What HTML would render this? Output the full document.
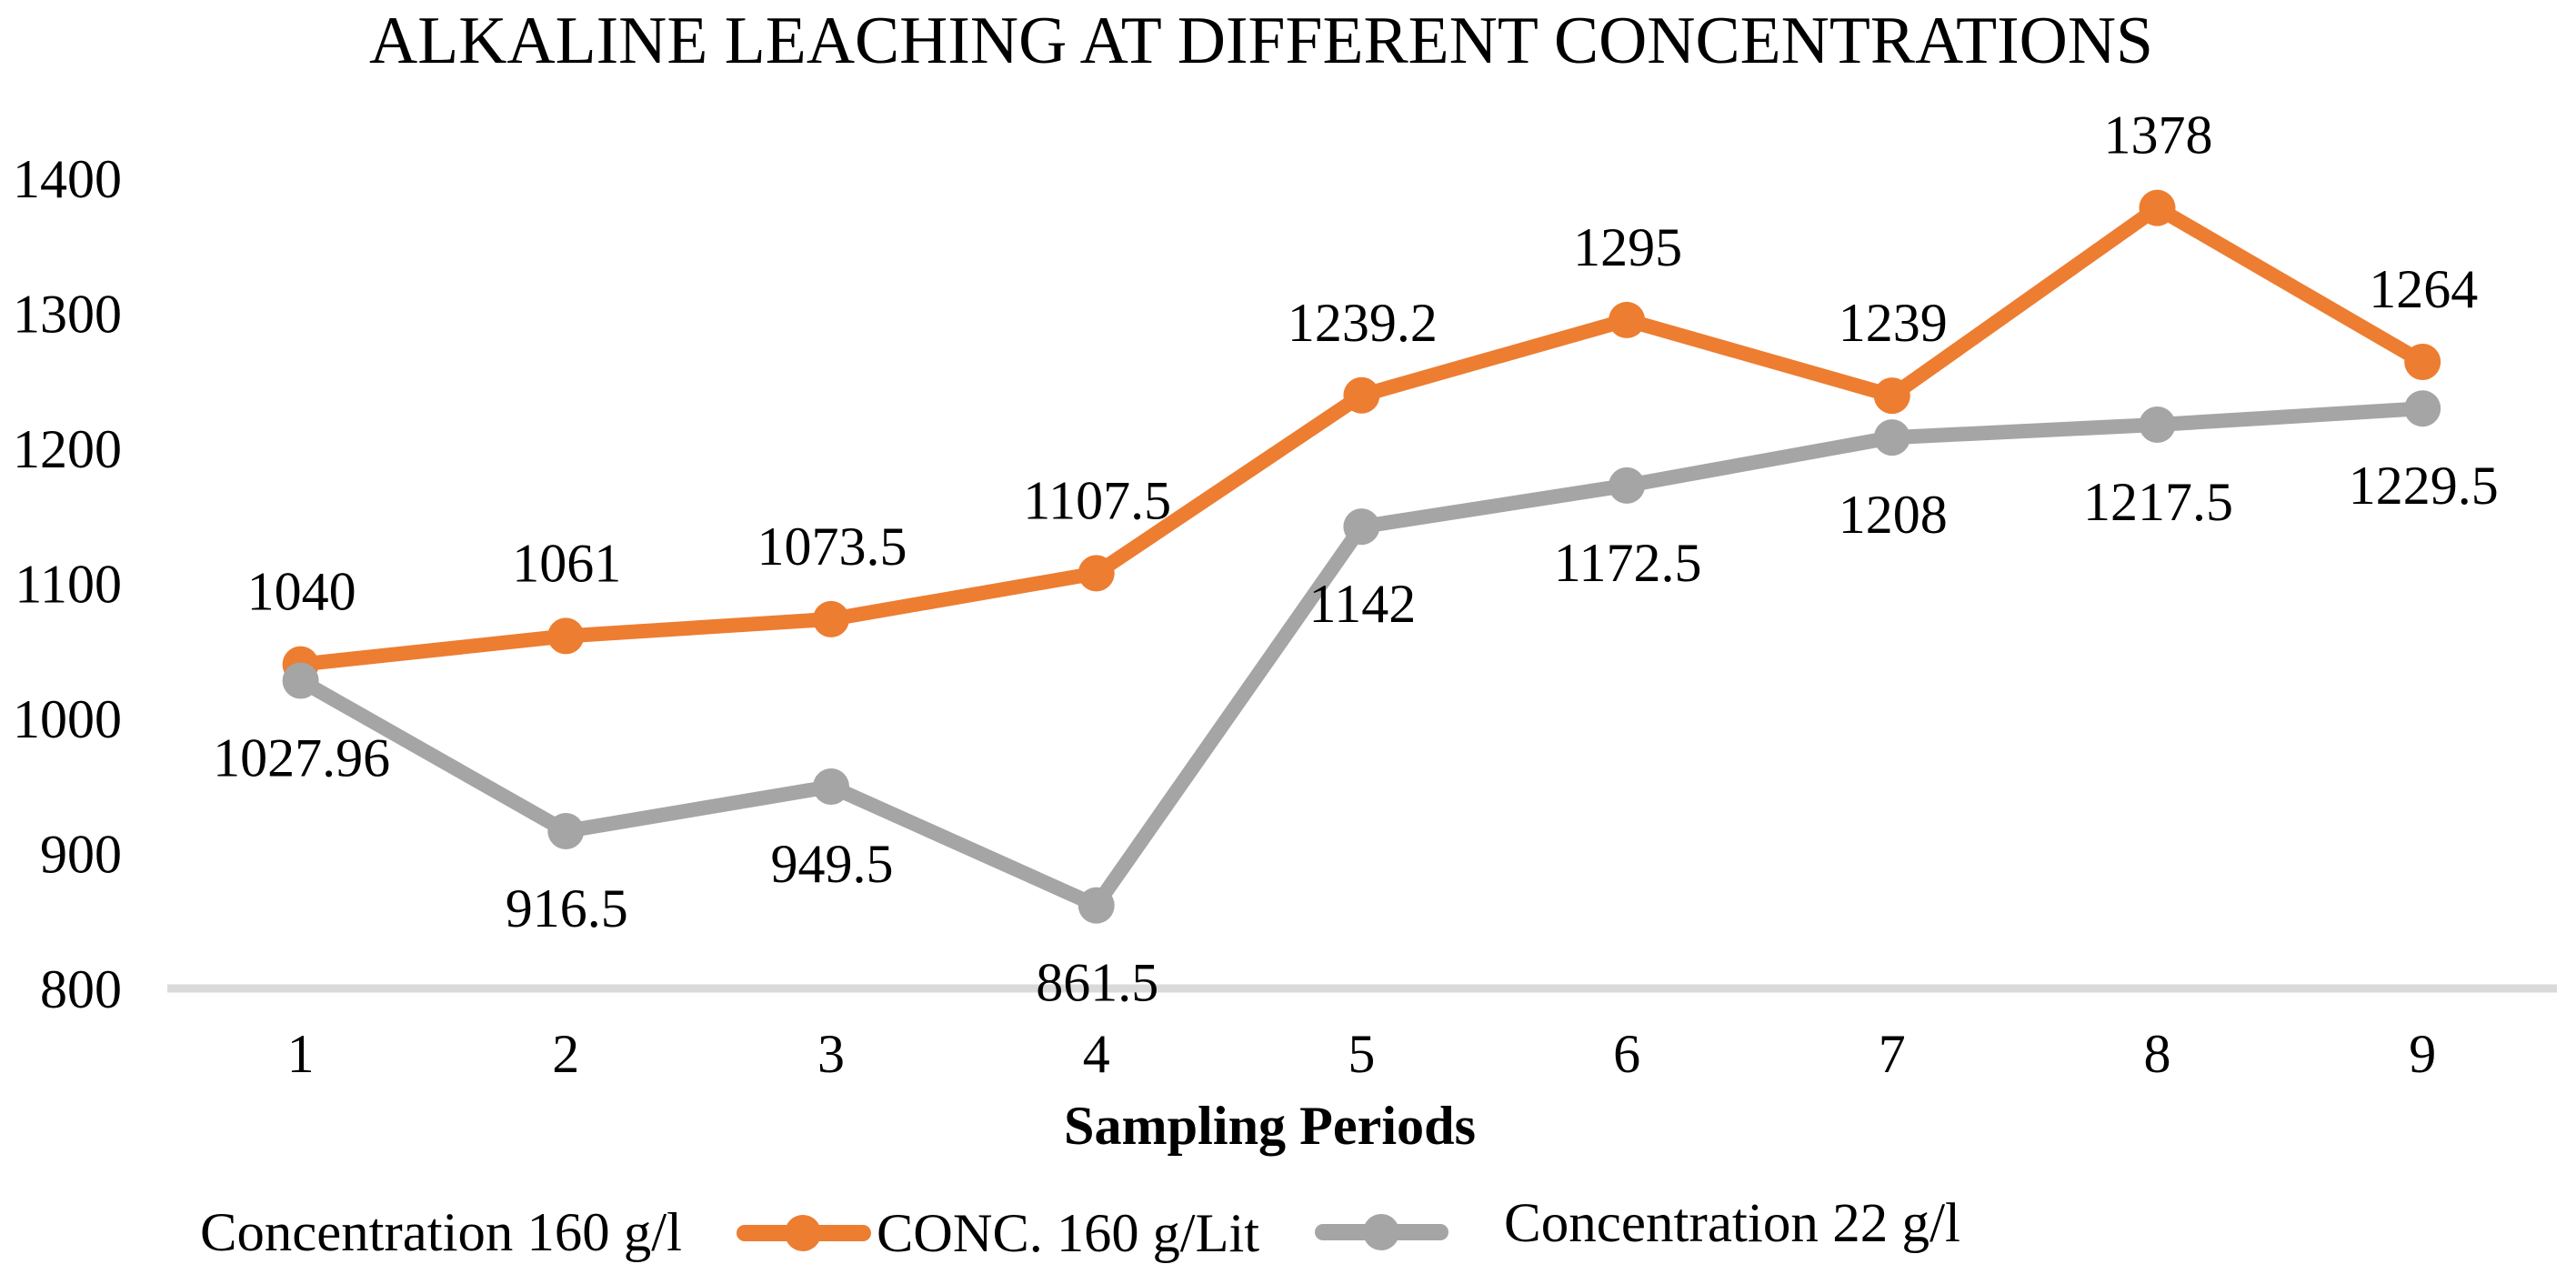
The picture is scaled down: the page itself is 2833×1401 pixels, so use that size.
<!DOCTYPE html>
<html>
<head>
<meta charset="utf-8">
<title>Alkaline Leaching at Different Concentrations</title>
<style>
html,body{margin:0;padding:0;background:#fff;}
svg{display:block;}
text{font-family:"Liberation Serif",serif;fill:#000;}
</style>
</head>
<body>
<svg id="chart" xmlns="http://www.w3.org/2000/svg" width="2833" height="1401" viewBox="0 0 2833 1401">
  <rect x="0" y="0" width="2833" height="1401" fill="#fff"/>
  <text x="406" y="69" font-size="74" textLength="1962" lengthAdjust="spacingAndGlyphs">ALKALINE LEACHING AT DIFFERENT CONCENTRATIONS</text>
  <rect x="184" y="1082.5" width="2628" height="9" fill="#d9d9d9"/>
  <g id="marks"></g>
  <text x="1170" y="1258" font-size="60" font-weight="bold" textLength="453" lengthAdjust="spacingAndGlyphs">Sampling Periods</text>
  <text x="220" y="1375" font-size="60" textLength="530" lengthAdjust="spacingAndGlyphs">Concentration 160 g/l</text>
  <g>
    <line x1="819" y1="1356" x2="949" y2="1356" stroke="#ed7d31" stroke-width="18" stroke-linecap="round"/>
    <circle cx="883" cy="1356" r="20" fill="#ed7d31"/>
  </g>
  <text x="964" y="1376" font-size="60" textLength="421" lengthAdjust="spacingAndGlyphs">CONC. 160 g/Lit</text>
  <g>
    <line x1="1455" y1="1355" x2="1584" y2="1355" stroke="#a5a5a5" stroke-width="18" stroke-linecap="round"/>
    <circle cx="1519" cy="1355" r="20" fill="#a5a5a5"/>
  </g>
  <text x="1654" y="1365" font-size="61" textLength="502" lengthAdjust="spacingAndGlyphs">Concentration 22 g/l</text>
</svg>
<script>
const categories = ["1", "2", "3", "4", "5", "6", "7", "8", "9"];
const conc160Values = [1040, 1061, 1073.5, 1107.5, 1239.2, 1295, 1239, 1378, 1264];
const conc22Values = [1027.96, 916.5, 949.5, 861.5, 1142, 1172.5, 1208, 1217.5, 1229.5];
const yTickValues = [800, 900, 1000, 1100, 1200, 1300, 1400];

const NS = 'http://www.w3.org/2000/svg';
const marks = document.getElementById('marks');

const plotLeft = 184.75, bandWidth = 291.7;
const yZero = 1087, pxPerUnit = 1.485, yMin = 800;
function xScale(i) { return plotLeft + (i + 0.5) * bandWidth; }
function yScale(v) { return yZero - (v - yMin) * pxPerUnit; }

function svgEl(tag, attrs) {
  const el = document.createElementNS(NS, tag);
  for (const k in attrs) el.setAttribute(k, attrs[k]);
  return el;
}

function drawSeries(values, color, key) {
  const pts = values.map((v, i) => xScale(i) + ',' + yScale(v)).join(' ');
  const line = svgEl('polyline', { points: pts, fill: 'none', stroke: color, 'stroke-width': 16, 'stroke-linejoin': 'round', 'stroke-linecap': 'round' });
  
  
  marks.appendChild(line);
  values.forEach((v, i) => {
    const c = svgEl('circle', { cx: xScale(i), cy: yScale(v), r: 20, fill: color });
    
    
    marks.appendChild(c);
  });
}

function drawValueLabels(values, dy, key) {
  values.forEach((v, i) => {
    const t = svgEl('text', { x: xScale(i) + 1, y: yScale(v) + dy, 'font-size': 60, 'text-anchor': 'middle' });
    t.textContent = String(v);
    
    
    marks.appendChild(t);
  });
}

drawSeries(conc160Values, '#ed7d31', 'conc-160');
drawSeries(conc22Values, '#a5a5a5', 'conc-22');
drawValueLabels(conc160Values, -60, 'conc-160');
drawValueLabels(conc22Values, 105, 'conc-22');

yTickValues.forEach(v => {
  const t = svgEl('text', { x: 134, y: yScale(v) + 21, 'font-size': 60, 'text-anchor': 'end' });
  t.textContent = String(v);
  
  
  marks.appendChild(t);
});

categories.forEach((c, i) => {
  const t = svgEl('text', { x: xScale(i), y: 1179, 'font-size': 60, 'text-anchor': 'middle' });
  t.textContent = c;
  
  
  marks.appendChild(t);
});
</script>
</body>
</html>
